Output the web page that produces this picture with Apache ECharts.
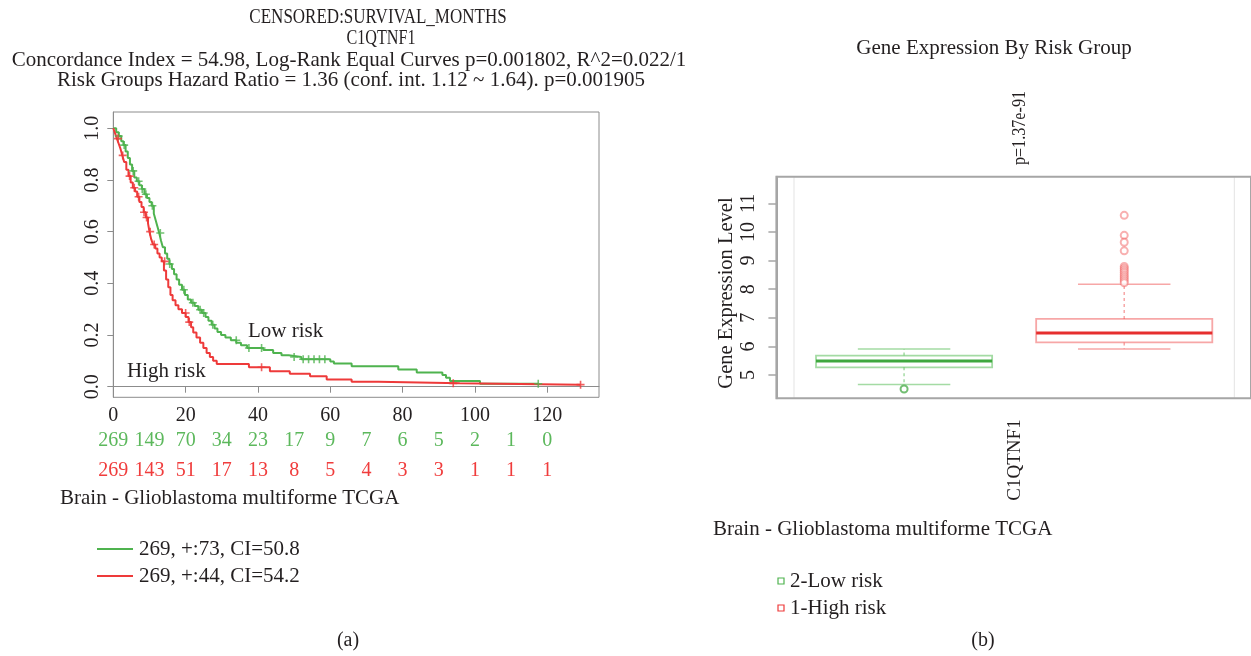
<!DOCTYPE html>
<html>
<head>
<meta charset="utf-8">
<script src="https://cdn.jsdelivr.net/npm/echarts@6/dist/echarts.min.js"></script>
<style>
html,body{margin:0;padding:0;background:#fff;}
#c{width:1251px;height:656px;}
</style>
</head>
<body>
<div id="c"></div>
<script>
// ---------- DATA ----------
const kmTicks = [0, 20, 40, 60, 80, 100, 120];
const survTicks = [0, 0.2, 0.4, 0.6, 0.8, 1.0];
const riskTimes = [0, 10, 20, 30, 40, 50, 60, 70, 80, 90, 100, 110, 120];
const lowAtRisk = [269, 149, 70, 34, 23, 17, 9, 7, 6, 5, 2, 1, 0];
const highAtRisk = [269, 143, 51, 17, 13, 8, 5, 4, 3, 3, 1, 1, 1];

// Kaplan-Meier steps [month, survival]
const lowRiskCurve = [
  [0,1.0],[0.8,0.985],[1.5,0.97],[2.2,0.95],[2.8,0.935],[3.4,0.91],[4.0,0.885],[4.6,0.86],
  [5.2,0.835],[5.8,0.81],[6.5,0.795],[7.2,0.78],[7.9,0.765],[8.6,0.745],[9.3,0.73],[10.0,0.715],
  [10.6,0.70],[11.2,0.67],[11.7,0.645],[12.2,0.62],[12.7,0.595],[13.2,0.565],[13.7,0.54],
  [14.3,0.515],[14.9,0.495],[15.5,0.475],[16.2,0.455],[16.8,0.435],[17.5,0.415],[18.2,0.395],
  [19.0,0.375],[19.8,0.355],[20.6,0.337],[21.5,0.325],[22.5,0.312],[23.5,0.298],[24.5,0.285],
  [25.5,0.27],[26.3,0.255],[27.2,0.24],[28.0,0.225],[28.8,0.212],[29.8,0.2],[31,0.19],
  [32.5,0.18],[34,0.17],[35.3,0.16],[37,0.15],[41.5,0.142],[44.2,0.13],[46.5,0.122],
  [48.5,0.115],[52,0.106],[60,0.098],[61,0.09],[65.9,0.079],[78.8,0.067],[83.9,0.055],
  [91,0.045],[92,0.035],[93.1,0.022],[101.4,0.0115],[117.5,0.0115]
];
const highRiskCurve = [
  [0,1.0],[0.5,0.98],[1.0,0.96],[1.5,0.94],[2.0,0.92],[2.5,0.895],[3.0,0.87],[3.6,0.84],
  [4.2,0.815],[4.8,0.79],[5.4,0.77],[6.0,0.755],[6.6,0.735],[7.2,0.715],[7.8,0.695],[8.4,0.675],
  [9.0,0.655],[9.6,0.632],[10.0,0.6],[10.5,0.57],[11.0,0.55],[11.6,0.535],[12.2,0.515],
  [12.8,0.5],[13.4,0.485],[14.0,0.45],[14.6,0.415],[15.2,0.385],[15.8,0.355],[16.4,0.335],
  [17.2,0.315],[18.0,0.30],[19.0,0.285],[20.0,0.27],[20.8,0.25],[21.5,0.23],[22.1,0.21],
  [23,0.19],[24,0.17],[24.9,0.15],[25.8,0.13],[26.7,0.115],[27.6,0.1],[28.6,0.088],
  [37.5,0.075],[43.3,0.06],[48.8,0.05],[54.4,0.04],[59,0.028],[65.9,0.019],[73.3,0.013],
  [95.8,0.008],[129.2,0.008]
];
const lowCensored = [
  [1.5,0.97],[3.0,0.935],[5.5,0.835],[7,0.795],[8,0.765],[9,0.745],[10.8,0.70],[13,0.595],
  [15.6,0.475],[19.5,0.375],[22,0.325],[24,0.298],[25,0.285],[27.5,0.24],[34,0.18],[37.5,0.15],
  [41,0.15],[50,0.115],[52.5,0.106],[54,0.106],[55.5,0.106],[57,0.106],[58.5,0.106],[117.5,0.0115]
];
const highCensored = [
  [1.3,0.96],[2.6,0.895],[4.5,0.815],[5.8,0.77],[7,0.735],[8.5,0.675],[9.2,0.655],[10.2,0.6],
  [11.3,0.55],[14.2,0.485],[20,0.285],[21,0.25],[41,0.075],[94,0.013],[129.2,0.008]
];

// Box plot
const boxGroups = ['2-Low risk', '1-High risk'];
const lowBox = [4.67, 5.27, 5.49, 5.68, 5.91];   // min, q1, median, q3, max
const highBox = [5.91, 6.14, 6.47, 6.96, 8.17];
const lowOutliers = [4.51];
const highOutliers = [10.58, 9.88, 9.64, 9.34, 8.79, 8.72, 8.65, 8.58, 8.5, 8.43, 8.36, 8.29, 8.22];
const exprTicks = [5, 6, 7, 8, 9, 10, 11];

// ---------- STYLE ----------
const FONT = "'Liberation Serif','DejaVu Serif',serif";
const TXT = '#231f20';
const GREEN = '#4fb34f';
const RED = '#ee3a3a';
const boxStyles = [
  {light: 'rgba(90,190,90,0.55)', dark: '#3fa83f'},
  {light: 'rgba(240,80,80,0.5)', dark: '#e62e2e'}
];

const chart = echarts.init(document.getElementById('c'), null, {renderer: 'canvas'});

function txt(text, x, y, size, opt) {
  return Object.assign({
    type: 'text', x: x, y: y,
    style: Object.assign({text: text, fill: TXT, font: size + 'px ' + FONT, textAlign: 'center', textVerticalAlign: 'middle'}, (opt && opt.style) || {})
  }, (opt && opt.el) || {});
}

const option = {
  backgroundColor: '#fff',
  animation: false,
  textStyle: {fontFamily: FONT},
  grid: [
    {left: 113.3, top: 112, width: 485.7, height: 285.3, show: true, borderColor: '#8c8c8c', borderWidth: 1, z: 3},
    {left: 776.4, top: 176.7, width: 476, height: 221.6, show: true, borderColor: '#a6a6a6', borderWidth: 2, z: 3},
    {left: 794, top: 176.7, width: 440.3, height: 221.6, show: true, borderColor: '#e3e3e3', borderWidth: 1, z: 1}
  ],
  xAxis: [
    {gridIndex: 0, type: 'value', min: 0, max: 134.3, position: 'bottom',
      axisLine: {show: true, lineStyle: {color: '#8c8c8c'}},
      axisTick: {show: true, length: 6, customValues: kmTicks, lineStyle: {color: '#8c8c8c'}},
      axisLabel: {customValues: kmTicks, margin: 8, color: TXT, fontSize: 20, fontFamily: FONT},
      splitLine: {show: false}},
    {gridIndex: 0, type: 'value', min: 0, max: 134.3, position: 'bottom', offset: 25,
      axisLine: {show: false}, axisTick: {show: false}, splitLine: {show: false},
      axisLabel: {customValues: riskTimes, margin: 8, color: '#5cb85c', fontSize: 20, fontFamily: FONT,
        formatter: v => String(lowAtRisk[riskTimes.indexOf(v)])}},
    {gridIndex: 0, type: 'value', min: 0, max: 134.3, position: 'bottom', offset: 55,
      axisLine: {show: false}, axisTick: {show: false}, splitLine: {show: false},
      axisLabel: {customValues: riskTimes, margin: 8, color: '#f03c3c', fontSize: 20, fontFamily: FONT,
        formatter: v => String(highAtRisk[riskTimes.indexOf(v)])}},
    {gridIndex: 1, type: 'value', show: false, min: 0, max: 1},
    {gridIndex: 2, type: 'category', data: boxGroups, show: false}
  ],
  yAxis: [
    {gridIndex: 0, type: 'value', min: -0.041, max: 1.063,
      axisLine: {show: true, lineStyle: {color: '#8c8c8c'}},
      axisTick: {show: true, length: 6, customValues: survTicks, lineStyle: {color: '#8c8c8c'}},
      axisLabel: {customValues: survTicks, rotate: 90, margin: 11, color: TXT, fontSize: 20, fontFamily: FONT,
        formatter: v => v.toFixed(1)},
      splitLine: {show: false}},
    {gridIndex: 1, type: 'value', min: 4.186, max: 11.93,
      axisLine: {show: true, lineStyle: {color: '#a6a6a6', width: 2}},
      axisTick: {show: true, length: 8, customValues: exprTicks, lineStyle: {color: '#a6a6a6', width: 1.5}},
      axisLabel: {customValues: exprTicks, rotate: 90, margin: 18, color: TXT, fontSize: 20, fontFamily: FONT},
      splitLine: {show: false}},
    {gridIndex: 2, type: 'value', min: 4.186, max: 11.93, show: false, splitLine: {show: false}}
  ],
  series: [
    {type: 'line', xAxisIndex: 0, yAxisIndex: 0, data: lowRiskCurve, step: 'end', showSymbol: false,
      lineStyle: {color: GREEN, width: 2}, z: 4},
    {type: 'line', xAxisIndex: 0, yAxisIndex: 0, data: highRiskCurve, step: 'end', showSymbol: false,
      lineStyle: {color: RED, width: 2}, z: 4},
    {type: 'scatter', xAxisIndex: 0, yAxisIndex: 0, data: lowCensored,
      symbol: 'path://M4,0H6V4H10V6H6V10H4V6H0V4H4Z', symbolSize: 8, itemStyle: {color: GREEN}, z: 5},
    {type: 'scatter', xAxisIndex: 0, yAxisIndex: 0, data: highCensored,
      symbol: 'path://M4,0H6V4H10V6H6V10H4V6H0V4H4Z', symbolSize: 8, itemStyle: {color: RED}, z: 5},
    {type: 'custom', xAxisIndex: 4, yAxisIndex: 2,
      data: [[0].concat(lowBox), [1].concat(highBox)],
      encode: {x: 0, y: [1, 2, 3, 4, 5]},
      renderItem: function (params, api) {
        const cat = api.value(0);
        const band = api.size([1, 0])[0];
        const cx = api.coord([cat, api.value(3)])[0];
        const y = i => api.coord([cat, api.value(i)])[1];
        const yMin = y(1), yQ1 = y(2), yMed = y(3), yQ3 = y(4), yMax = y(5);
        const hw = band * 0.4, cw = band * 0.21;
        const s = boxStyles[params.dataIndex];
        return {type: 'group', children: [
          {type: 'line', shape: {x1: cx, y1: yQ3, x2: cx, y2: yMax}, style: {stroke: s.light, lineWidth: 1.5, lineDash: [3, 3]}},
          {type: 'line', shape: {x1: cx, y1: yQ1, x2: cx, y2: yMin}, style: {stroke: s.light, lineWidth: 1.5, lineDash: [3, 3]}},
          {type: 'line', shape: {x1: cx - cw, y1: yMax, x2: cx + cw, y2: yMax}, style: {stroke: s.light, lineWidth: 1.6}},
          {type: 'line', shape: {x1: cx - cw, y1: yMin, x2: cx + cw, y2: yMin}, style: {stroke: s.light, lineWidth: 1.6}},
          {type: 'rect', shape: {x: cx - hw, y: yQ3, width: 2 * hw, height: yQ1 - yQ3}, style: {fill: 'none', stroke: s.light, lineWidth: 1.8}},
          {type: 'line', shape: {x1: cx - hw, y1: yMed, x2: cx + hw, y2: yMed}, style: {stroke: s.dark, lineWidth: 3}}
        ]};
      }, z: 4},
    {type: 'scatter', xAxisIndex: 4, yAxisIndex: 2, data: lowOutliers.map(v => [0, v]),
      symbol: 'emptyCircle', symbolSize: 7, itemStyle: {color: '#4fae4f', borderWidth: 2}, z: 5},
    {type: 'scatter', xAxisIndex: 4, yAxisIndex: 2, data: highOutliers.map(v => [1, v]),
      symbol: 'emptyCircle', symbolSize: 7, itemStyle: {color: 'rgba(240,90,90,0.6)', borderWidth: 1.5}, z: 5}
  ],
  graphic: [
    txt('CENSORED:SURVIVAL_MONTHS', 378, 17, 21, {el: {scaleX: 0.81}}),
    txt('C1QTNF1', 381, 38, 21, {el: {scaleX: 0.77}}),
    txt('Concordance Index = 54.98, Log-Rank Equal Curves p=0.001802, R^2=0.022/1', 349, 60, 21),
    txt('Risk Groups Hazard Ratio = 1.36 (conf. int. 1.12 ~ 1.64). p=0.001905', 351, 80, 21),
    txt('Low risk', 248, 331, 21, {style: {textAlign: 'left'}}),
    txt('High risk', 127, 371, 21, {style: {textAlign: 'left'}}),
    txt('Brain - Glioblastoma multiforme TCGA', 60, 498, 21, {style: {textAlign: 'left'}}),
    {type: 'line', shape: {x1: 97, y1: 549, x2: 133, y2: 549}, style: {stroke: GREEN, lineWidth: 2}},
    {type: 'line', shape: {x1: 97, y1: 576, x2: 133, y2: 576}, style: {stroke: RED, lineWidth: 2}},
    txt('269, +:73, CI=50.8', 139, 549, 21, {style: {textAlign: 'left'}}),
    txt('269, +:44, CI=54.2', 139, 576, 21, {style: {textAlign: 'left'}}),
    txt('(a)', 348, 641, 20),
    txt('Gene Expression By Risk Group', 994, 48, 21),
    txt('p=1.37e-91', 1020, 128, 19, {el: {rotation: Math.PI / 2, scaleX: 0.85}}),
    txt('Gene Expression Level', 727, 293, 20.5, {el: {rotation: Math.PI / 2}}),
    txt('C1QTNF1', 1015, 460, 19, {el: {rotation: Math.PI / 2}}),
    txt('Brain - Glioblastoma multiforme TCGA', 713, 529, 21, {style: {textAlign: 'left'}}),
    {type: 'rect', shape: {x: 778, y: 578, width: 6, height: 6}, style: {fill: 'none', stroke: GREEN, lineWidth: 1.2}},
    {type: 'rect', shape: {x: 778, y: 605, width: 6, height: 6}, style: {fill: 'none', stroke: RED, lineWidth: 1.2}},
    txt('2-Low risk', 790, 581, 21, {style: {textAlign: 'left'}}),
    txt('1-High risk', 790, 608, 21, {style: {textAlign: 'left'}}),
    txt('(b)', 983, 641, 20)
  ]
};
chart.setOption(option);
</script>
</body>
</html>
